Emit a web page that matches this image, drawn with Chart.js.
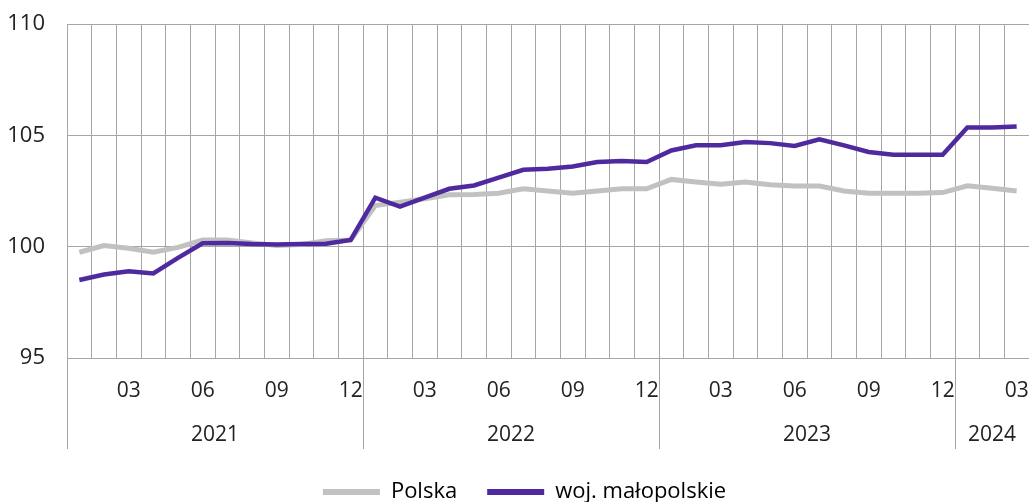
<!DOCTYPE html>
<html>
<head>
<meta charset="utf-8">
<script src="https://cdn.jsdelivr.net/npm/chart.js@4.4.1/dist/chart.umd.min.js"></script>
<style>
  html, body { margin: 0; padding: 0; background: #fff; }
  #wrap { width: 1029px; height: 502px; }
</style>
</head>
<body>
<div id="wrap"><canvas id="wykres"></canvas></div>
<script>
// Miesiące 2021-01 .. 2024-03
const miesiace = [
  '01','02','03','04','05','06','07','08','09','10','11','12',
  '01','02','03','04','05','06','07','08','09','10','11','12',
  '01','02','03','04','05','06','07','08','09','10','11','12',
  '01','02','03'
];
const lata = ['2021', '2022', '2023', '2024'];
const miesiaceWRoku = [12, 12, 12, 3];

const polska = [
  99.75, 100.05, 99.93, 99.75, 99.97, 100.3, 100.3, 100.17, 100.05, 100.1, 100.27, 100.3,
  101.85, 102.0, 102.15, 102.33, 102.34, 102.4, 102.6, 102.5, 102.4, 102.5, 102.6, 102.6,
  103.02, 102.9, 102.8, 102.9, 102.78, 102.73, 102.72, 102.5, 102.4, 102.4, 102.4, 102.43,
  102.73, 102.62, 102.5
];
const malopolskie = [
  98.5, 98.75, 98.9, 98.8, 99.5, 100.15, 100.17, 100.12, 100.1, 100.12, 100.13, 100.3,
  102.2, 101.8, 102.2, 102.6, 102.75, 103.1, 103.45, 103.5, 103.6, 103.8, 103.85, 103.8,
  104.32, 104.55, 104.55, 104.7, 104.65, 104.52, 104.82, 104.55, 104.25, 104.13, 104.13, 104.13,
  105.35, 105.35, 105.4
];
const yTicks = [95, 100, 105, 110];

const FONT = '"Open Sans", "Noto Sans", sans-serif';
const SZARY = '#c1c1c1';
const FIOLET = '#4f2a9e';
const SIATKA = '#a6a6a6';

// lata pod osią X + długie kreski oddzielające
const rokPlugin = {
  id: 'lata',
  afterLayout(chart) {
    // legenda lekko w prawo, jak w oryginale
    chart.legend.left += 9;
    chart.legend.right += 9;
  },
  afterDraw(chart) {
    const x = chart.scales.x;
    const ctx = chart.ctx;
    const bottom = chart.chartArea.bottom;
    const half = (x.getPixelForValue(1) - x.getPixelForValue(0)) / 2;
    ctx.save();
    ctx.strokeStyle = SIATKA;
    ctx.lineWidth = 1;
    ctx.fillStyle = '#222';
    ctx.font = '21px ' + FONT;
    ctx.textAlign = 'center';
    ctx.textBaseline = 'middle';
    let start = 0;
    lata.forEach((rok, i) => {
      const end = start + miesiaceWRoku[i];
      const x0 = x.getPixelForValue(start) - half;
      const x1 = x.getPixelForValue(end - 1) + half;
      ctx.beginPath();
      ctx.moveTo(Math.round(x0) + 0.5, bottom);
      ctx.lineTo(Math.round(x0) + 0.5, bottom + 91);
      ctx.stroke();
      ctx.fillText(rok, (x0 + Math.min(x1, chart.width)) / 2, bottom + 77);
      start = end;
    });
    ctx.restore();
  }
};

const ctx = document.getElementById('wykres').getContext('2d');
new Chart(ctx, {
  type: 'line',
  data: {
    labels: miesiace,
    datasets: [{
      label: 'Polska',
      data: polska,
      borderColor: SZARY,
      backgroundColor: SZARY,
      borderWidth: 5,
      pointRadius: 0,
      tension: 0,
      order: 1
    }, {
      label: 'woj. małopolskie',
      data: malopolskie,
      borderColor: FIOLET,
      backgroundColor: FIOLET,
      borderWidth: 4.5,
      pointRadius: 0,
      tension: 0,
      order: 0
    }]
  },
  options: {
    responsive: true,
    maintainAspectRatio: false,
    animation: false,
    layout: { padding: { top: 24, right: -2, left: 0, bottom: -11 } },
    plugins: {
      tooltip: { enabled: false },
      legend: {
        position: 'bottom',
        labels: {
          color: '#222',
          font: { family: FONT, size: 22 },
          boxWidth: 57,
          boxHeight: 6,
          padding: 30,
          generateLabels(chart) {
            return chart.data.datasets.map((ds, i) => ({
              text: ds.label,
              fillStyle: ds.borderColor,
              strokeStyle: ds.borderColor,
              lineWidth: 0,
              hidden: false,
              datasetIndex: i
            }));
          }
        }
      }
    },
    scales: {
      x: {
        offset: true,
        grid: { color: SIATKA, lineWidth: 1, offset: true, drawTicks: true, tickLength: 20, tickColor: 'rgba(0,0,0,0)' },
        border: { color: SIATKA },
        ticks: {
          autoSkip: false,
          maxRotation: 0,
          padding: 0,
          color: '#222',
          font: { family: FONT, size: 21 },
          callback: function (v) {
            const m = miesiace[v];
            return (parseInt(m, 10) % 3 === 0) ? m : '';
          }
        },
        afterFit(scale) { scale.height = 93; }
      },
      y: {
        min: 95,
        max: 110,
        afterBuildTicks(scale) { scale.ticks = yTicks.map(v => ({ value: v })); },
        grid: { color: SIATKA, lineWidth: 1, drawTicks: true, tickLength: 20, tickColor: 'rgba(0,0,0,0)' },
        border: { display: false },
        ticks: {
          padding: 2,
          color: '#222',
          font: { family: FONT, size: 22 }
        },
        afterFit(scale) { scale.width = 67; }
      }
    }
  },
  plugins: [rokPlugin]
});
</script>
</body>
</html>
